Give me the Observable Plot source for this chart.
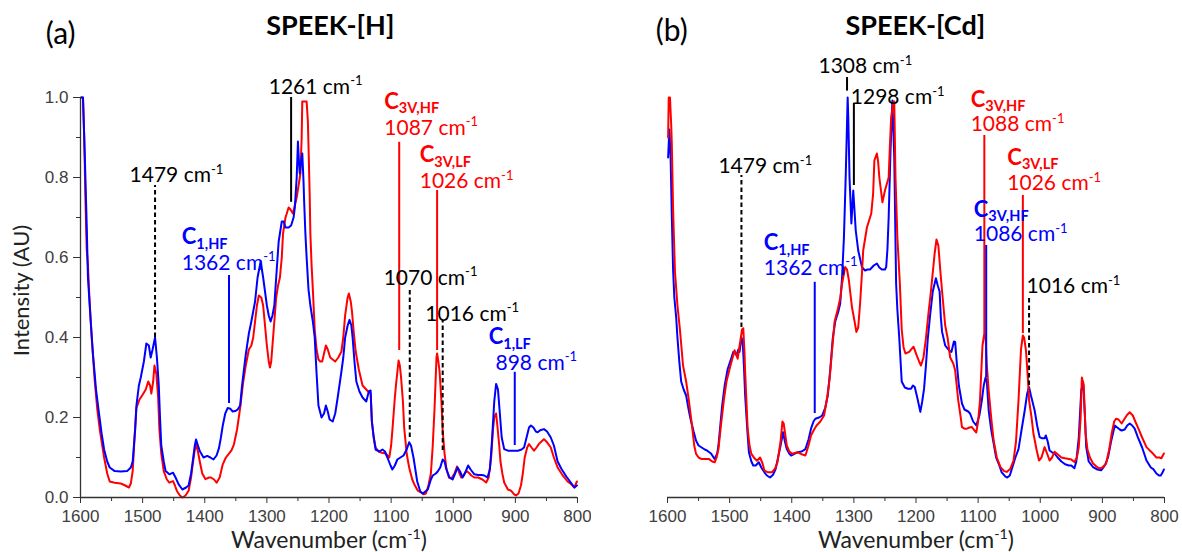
<!DOCTYPE html>
<html>
<head>
<meta charset="utf-8">
<script src="https://cdn.jsdelivr.net/npm/d3@7"></script>
<script src="https://cdn.jsdelivr.net/npm/@observablehq/plot@0.6"></script>
<style>
  html, body { margin: 0; padding: 0; background: #fff; }
  #wrap { display: flex; width: 1182px; height: 552px; overflow: hidden; }
  #wrap svg { overflow: visible; }
</style>
</head>
<body>
<div id="wrap"></div>
<script>
// ---------- Tick values ----------
const xTicks = [1600, 1500, 1400, 1300, 1200, 1100, 1000, 900, 800];
const xMinor = [1550, 1450, 1350, 1250, 1150, 1050, 950, 850];
const yTicks = [0, 0.2, 0.4, 0.6, 0.8, 1.0];
const yMinor = [0.1, 0.3, 0.5, 0.7, 0.9];

// ---------- Panel (a) SPEEK-[H] : red spectrum ----------
const aRed = [[1599,1.0],[1596,1.0],[1594,0.9],[1592,0.74],[1590,0.62],[1588,0.58],[1586,0.51],[1582,0.40],[1577,0.29],[1573,0.22],[1569,0.17],[1565,0.13],[1562,0.10],[1557,0.06],[1553,0.04],[1545,0.037],[1535,0.035],[1528,0.03],[1522,0.025],[1519,0.035],[1516,0.066],[1513,0.15],[1510,0.224],[1505,0.245],[1500,0.257],[1495,0.27],[1491,0.29],[1488,0.28],[1486,0.26],[1483,0.29],[1481,0.33],[1478,0.31],[1475,0.25],[1473,0.17],[1470,0.11],[1466,0.066],[1461,0.045],[1457,0.037],[1451,0.041],[1448,0.03],[1445,0.017],[1440,0.005],[1436,0.0],[1431,0.005],[1426,0.017],[1422,0.05],[1420,0.075],[1416,0.12],[1414,0.133],[1411,0.115],[1408,0.09],[1404,0.06],[1399,0.046],[1393,0.05],[1390,0.05],[1385,0.045],[1381,0.037],[1376,0.05],[1371,0.083],[1366,0.1],[1362,0.108],[1357,0.118],[1353,0.133],[1348,0.17],[1343,0.224],[1338,0.29],[1334,0.33],[1329,0.37],[1325,0.38],[1322,0.40],[1319,0.44],[1316,0.48],[1313,0.505],[1309,0.50],[1306,0.48],[1303,0.43],[1300,0.38],[1297,0.34],[1295,0.325],[1293,0.34],[1290,0.40],[1287,0.46],[1285,0.50],[1282,0.53],[1279,0.55],[1276,0.60],[1274,0.66],[1270,0.70],[1265,0.725],[1262,0.72],[1258,0.71],[1255,0.73],[1252,0.75],[1249,0.78],[1246,0.81],[1244,0.90],[1243,0.99],[1240,0.99],[1236,0.99],[1234,0.94],[1233,0.88],[1231,0.75],[1230,0.66],[1228,0.58],[1226,0.52],[1223,0.42],[1220,0.37],[1217,0.345],[1214,0.34],[1211,0.34],[1208,0.36],[1205,0.38],[1202,0.37],[1198,0.35],[1194,0.345],[1190,0.34],[1185,0.35],[1180,0.365],[1177,0.40],[1174,0.456],[1170,0.50],[1168,0.51],[1165,0.49],[1163,0.465],[1160,0.41],[1157,0.365],[1152,0.32],[1146,0.28],[1140,0.27],[1137,0.265],[1133,0.26],[1131,0.19],[1128,0.15],[1125,0.125],[1120,0.115],[1115,0.112],[1109,0.11],[1103,0.10],[1100,0.13],[1098,0.168],[1094,0.25],[1092,0.284],[1088,0.3425],[1086,0.33],[1084,0.30],[1081,0.24],[1079,0.175],[1075,0.11],[1071,0.075],[1066,0.045],[1063,0.034],[1057,0.017],[1052,0.0125],[1048,0.008],[1044,0.01],[1040,0.03],[1036,0.06],[1033,0.13],[1030,0.226],[1027,0.35],[1026,0.36],[1024,0.34],[1022,0.315],[1019,0.24],[1017,0.166],[1014,0.11],[1011,0.0725],[1007,0.05],[1003,0.0475],[998,0.06],[994,0.0775],[990,0.06],[987,0.05],[983,0.055],[979,0.067],[975,0.062],[971,0.055],[966,0.05],[960,0.05],[953,0.045],[947,0.0375],[943,0.05],[939,0.1],[936,0.17],[934,0.2],[931,0.21],[929,0.18],[926,0.13],[924,0.09],[921,0.06],[918,0.0375],[912,0.02],[907,0.017],[902,0.008],[899,0.005],[895,0.01],[891,0.03],[888,0.06],[885,0.1],[881,0.125],[878,0.1335],[874,0.125],[870,0.117],[866,0.125],[862,0.134],[858,0.14],[854,0.146],[849,0.138],[843,0.125],[838,0.1],[832,0.075],[825,0.058],[816,0.04],[810,0.033],[805,0.025],[801,0.04]];

// ---------- Panel (a) SPEEK-[H] : blue spectrum ----------
const aBlue = [[1599,1.0],[1596,1.0],[1593,0.85],[1590,0.68],[1588,0.55],[1584,0.45],[1580,0.36],[1575,0.27],[1571,0.22],[1566,0.16],[1562,0.12],[1557,0.09],[1553,0.075],[1545,0.066],[1535,0.065],[1525,0.066],[1519,0.075],[1516,0.09],[1512,0.17],[1510,0.23],[1506,0.28],[1503,0.30],[1498,0.34],[1494,0.385],[1490,0.38],[1487,0.35],[1484,0.37],[1480,0.40],[1477,0.35],[1474,0.28],[1472,0.2],[1470,0.13],[1466,0.09],[1463,0.066],[1457,0.058],[1451,0.062],[1447,0.05],[1442,0.033],[1436,0.02],[1430,0.025],[1426,0.03],[1422,0.06],[1420,0.083],[1416,0.13],[1414,0.145],[1411,0.13],[1408,0.116],[1402,0.10],[1396,0.104],[1391,0.1],[1386,0.095],[1381,0.105],[1377,0.124],[1374,0.15],[1371,0.18],[1367,0.21],[1363,0.224],[1359,0.222],[1355,0.215],[1351,0.216],[1347,0.22],[1343,0.23],[1340,0.28],[1334,0.357],[1329,0.41],[1325,0.44],[1319,0.49],[1315,0.55],[1310,0.59],[1306,0.55],[1300,0.48],[1297,0.455],[1294,0.44],[1291,0.455],[1288,0.48],[1285,0.55],[1281,0.64],[1276,0.69],[1273,0.69],[1270,0.675],[1265,0.675],[1261,0.68],[1257,0.70],[1255,0.725],[1252,0.80],[1250,0.89],[1248,0.83],[1247,0.81],[1245,0.84],[1243,0.86],[1241,0.79],[1240,0.74],[1238,0.66],[1236,0.60],[1233,0.52],[1230,0.48],[1226,0.44],[1223,0.40],[1220,0.31],[1217,0.23],[1212,0.20],[1208,0.21],[1205,0.23],[1202,0.215],[1199,0.195],[1194,0.19],[1190,0.21],[1186,0.25],[1180,0.315],[1177,0.35],[1174,0.40],[1170,0.43],[1167,0.444],[1164,0.43],[1162,0.40],[1159,0.34],[1156,0.29],[1151,0.265],[1146,0.25],[1140,0.24],[1136,0.265],[1133,0.2675],[1131,0.19],[1128,0.15],[1125,0.12],[1119,0.115],[1114,0.12],[1110,0.115],[1106,0.10],[1101,0.08],[1098,0.07],[1094,0.08],[1090,0.095],[1085,0.1],[1080,0.105],[1075,0.12],[1071,0.138],[1068,0.13],[1064,0.10],[1061,0.07],[1058,0.04],[1053,0.015],[1049,0.01],[1045,0.015],[1041,0.02],[1036,0.045],[1033,0.055],[1028,0.06],[1025,0.065],[1021,0.075],[1017,0.095],[1014,0.09],[1011,0.07],[1006,0.05],[1001,0.045],[997,0.06],[993,0.075],[989,0.065],[985,0.05],[980,0.065],[976,0.08],[972,0.07],[966,0.058],[960,0.056],[954,0.056],[950,0.055],[945,0.05],[941,0.07],[938,0.134],[934,0.24],[931,0.284],[928,0.27],[925,0.21],[922,0.15],[918,0.121],[912,0.117],[907,0.117],[900,0.117],[896,0.117],[890,0.12],[886,0.125],[882,0.15],[878,0.175],[875,0.18],[871,0.175],[867,0.165],[864,0.163],[860,0.168],[854,0.171],[849,0.165],[843,0.15],[838,0.13],[832,0.09],[826,0.072],[818,0.0525],[812,0.04],[805,0.025],[801,0.03]];

// ---------- Panel (b) SPEEK-[Cd] : blue spectrum ----------
const bBlue = [[1599,0.85],[1597,0.92],[1595,0.85],[1593,0.70],[1591,0.57],[1589,0.50],[1586,0.45],[1584,0.40],[1581,0.34],[1578,0.29],[1574,0.27],[1570,0.255],[1566,0.22],[1563,0.197],[1558,0.165],[1554,0.142],[1550,0.13],[1545,0.125],[1540,0.12],[1536,0.117],[1530,0.11],[1524,0.096],[1520,0.11],[1518,0.13],[1515,0.18],[1512,0.23],[1508,0.28],[1503,0.322],[1498,0.345],[1494,0.364],[1489,0.356],[1486,0.37],[1484,0.364],[1481,0.40],[1479,0.39],[1477,0.33],[1475,0.255],[1472,0.18],[1469,0.113],[1465,0.09],[1462,0.08],[1458,0.08],[1453,0.088],[1449,0.075],[1444,0.063],[1440,0.055],[1435,0.05],[1430,0.057],[1426,0.071],[1422,0.1],[1418,0.13],[1414,0.163],[1411,0.14],[1408,0.121],[1404,0.11],[1401,0.105],[1395,0.11],[1390,0.113],[1384,0.115],[1378,0.121],[1373,0.145],[1369,0.172],[1365,0.19],[1362,0.197],[1356,0.2],[1351,0.205],[1346,0.225],[1342,0.255],[1338,0.32],[1334,0.398],[1330,0.44],[1325,0.465],[1322,0.485],[1319,0.55],[1316,0.65],[1313,0.81],[1310,1.0],[1309,0.95],[1307,0.80],[1304,0.685],[1301,0.7675],[1297,0.6675],[1293,0.6175],[1287,0.576],[1282,0.5675],[1278,0.57],[1274,0.57],[1268,0.58],[1263,0.585],[1259,0.575],[1255,0.57],[1250,0.57],[1248,0.576],[1246,0.62],[1244,0.70],[1241,0.8675],[1238,0.9925],[1235,0.85],[1232,0.535],[1230,0.47],[1227,0.40],[1223,0.29],[1218,0.275],[1213,0.272],[1208,0.272],[1205,0.28],[1202,0.276],[1198,0.25],[1193,0.214],[1190,0.24],[1187,0.272],[1184,0.33],[1181,0.398],[1177,0.46],[1173,0.515],[1168,0.548],[1165,0.53],[1162,0.515],[1160,0.45],[1158,0.414],[1153,0.38],[1149,0.372],[1145,0.365],[1143,0.364],[1139,0.39],[1137,0.389],[1134,0.33],[1131,0.28],[1126,0.235],[1122,0.22],[1116,0.215],[1113,0.21],[1108,0.19],[1103,0.18],[1098,0.205],[1094,0.243],[1091,0.28],[1088,0.30],[1086,0.29],[1083,0.2175],[1079,0.17],[1075,0.135],[1071,0.10],[1067,0.085],[1062,0.063],[1056,0.052],[1053,0.05],[1049,0.055],[1046,0.07],[1040,0.1],[1035,0.121],[1030,0.17],[1025,0.2175],[1021,0.26],[1018,0.276],[1015,0.255],[1011,0.23],[1009,0.2175],[1005,0.18],[1001,0.151],[997,0.148],[993,0.148],[991,0.155],[988,0.14],[985,0.1175],[980,0.112],[977,0.11],[972,0.1],[966,0.09],[960,0.083],[954,0.08],[950,0.08],[945,0.073],[942,0.09],[938,0.15],[934,0.2675],[931,0.289],[928,0.2],[926,0.126],[922,0.09],[915,0.076],[908,0.07],[902,0.068],[896,0.08],[891,0.10],[886,0.14],[880,0.18],[876,0.175],[872,0.17],[869,0.1675],[864,0.17],[860,0.18],[856,0.185],[852,0.18],[848,0.172],[843,0.151],[836,0.125],[829,0.0925],[822,0.075],[818,0.071],[813,0.06],[809,0.055],[806,0.055],[803,0.063],[801,0.07]];

// ---------- Panel (b) SPEEK-[Cd] : red spectrum ----------
const bRed = [[1599,0.9],[1598,1.0],[1596,1.0],[1594,0.93],[1593,0.88],[1591,0.72],[1588,0.565],[1584,0.48],[1580,0.42],[1575,0.33],[1570,0.29],[1566,0.247],[1563,0.21],[1560,0.172],[1557,0.13],[1554,0.109],[1550,0.1],[1545,0.096],[1540,0.096],[1533,0.096],[1528,0.09],[1524,0.088],[1521,0.1],[1518,0.121],[1514,0.18],[1509,0.247],[1505,0.29],[1500,0.322],[1496,0.345],[1492,0.368],[1487,0.347],[1485,0.37],[1483,0.389],[1480,0.42],[1478,0.423],[1476,0.36],[1475,0.314],[1471,0.172],[1468,0.13],[1465,0.109],[1460,0.098],[1456,0.092],[1451,0.1],[1447,0.085],[1444,0.067],[1438,0.063],[1432,0.063],[1427,0.072],[1423,0.088],[1418,0.14],[1415,0.19],[1413,0.185],[1408,0.13],[1404,0.115],[1399,0.109],[1394,0.112],[1390,0.113],[1384,0.108],[1378,0.105],[1373,0.13],[1369,0.155],[1364,0.17],[1360,0.18],[1354,0.19],[1348,0.205],[1343,0.25],[1339,0.297],[1335,0.37],[1331,0.44],[1326,0.47],[1322,0.498],[1319,0.535],[1316,0.56],[1314,0.576],[1311,0.57],[1308,0.5425],[1306,0.515],[1303,0.475],[1300,0.45],[1296,0.414],[1293,0.425],[1290,0.485],[1287,0.56],[1285,0.6175],[1279,0.675],[1272,0.71],[1269,0.76],[1267,0.8425],[1263,0.86],[1261,0.84],[1259,0.80],[1254,0.738],[1250,0.7675],[1244,0.80],[1242,0.88],[1240,0.95],[1236,0.99],[1235,0.99],[1233,0.8],[1230,0.65],[1226,0.535],[1223,0.42],[1220,0.375],[1217,0.36],[1211,0.364],[1204,0.377],[1199,0.356],[1195,0.34],[1192,0.33],[1188,0.35],[1184,0.398],[1180,0.46],[1176,0.515],[1170,0.61],[1167,0.645],[1164,0.63],[1161,0.57],[1158,0.515],[1153,0.43],[1149,0.398],[1145,0.35],[1140,0.335],[1137,0.318],[1132,0.243],[1128,0.2],[1126,0.176],[1122,0.172],[1118,0.172],[1114,0.175],[1110,0.176],[1106,0.168],[1103,0.1625],[1100,0.19],[1097,0.243],[1093,0.38],[1090,0.41],[1088,0.40],[1086,0.33],[1083,0.2675],[1079,0.2],[1075,0.1425],[1070,0.1],[1064,0.076],[1058,0.066],[1054,0.064],[1048,0.072],[1043,0.0925],[1039,0.14],[1035,0.243],[1031,0.37],[1028,0.405],[1026,0.40],[1023,0.368],[1020,0.3],[1018,0.243],[1014,0.2],[1011,0.16],[1006,0.12],[1002,0.0925],[998,0.1],[993,0.126],[989,0.11],[985,0.0925],[981,0.1],[977,0.114],[972,0.108],[966,0.10],[960,0.098],[956,0.097],[950,0.095],[945,0.0885],[941,0.1],[938,0.126],[935,0.2],[933,0.30],[930,0.28],[927,0.16],[924,0.12],[920,0.1],[915,0.085],[910,0.078],[905,0.0725],[900,0.075],[894,0.085],[889,0.12],[885,0.16],[881,0.19],[878,0.197],[874,0.195],[869,0.185],[865,0.195],[860,0.207],[856,0.213],[851,0.205],[847,0.19],[843,0.176],[836,0.15],[829,0.126],[820,0.112],[813,0.10],[808,0.10],[805,0.098],[801,0.11]];

// ---------- Peak markers: [wavenumber, lower end, upper end, series, dashed] ----------
const aMarkers = [[1480,0.40,0.78,"black",true],[1361,0.235,0.555,"blue",false],[1261,0.738,1.0,"black",false],[1087,0.3675,0.888,"red",false],[1026,0.3675,0.7675,"red",false],[1070,0.15,0.5225,"black",true],[1017,0.1175,0.4425,"black",true],[901,0.13,0.313,"blue",false]];
const bMarkers = [[1481,0.425,0.805,"black",true],[1363,0.21,0.538,"blue",false],[1311,1.016,1.05,"black",false],[1300,0.78,0.985,"black",false],[1090,0.41,0.905,"red",false],[1087,0.30,0.63,"blue",false],[1028,0.41,0.755,"red",false],[1018,0.28,0.505,"black",true]];

// ---------- Labels: [text, wavenumber, intensity, series, bold] ----------
const aLabels = [["1479 cm^{-1}",1521,0.805,"black",false],["C_{1,HF}",1437,0.652,"blue",true],["1362 cm^{-1}",1437,0.586,"blue",false],["1261 cm^{-1}",1297,1.026,"black",false],["C_{3V,HF}",1111,0.99,"red",true],["1087 cm^{-1}",1111,0.924,"red",false],["C_{3V,LF}",1054,0.857,"red",true],["1026 cm^{-1}",1054,0.79,"red",false],["1070 cm^{-1}",1112,0.549,"black",false],["1016 cm^{-1}",1045,0.459,"black",false],["C_{1,LF}",943,0.402,"blue",true],["898 cm^{-1}",932,0.336,"blue",false]];
const bLabels = [["1308 cm^{-1}",1357,1.077,"black",false],["1298 cm^{-1}",1305,1.0,"black",false],["1479 cm^{-1}",1518,0.827,"black",false],["C_{3V,HF}",1112,0.995,"red",true],["1088 cm^{-1}",1112,0.932,"red",false],["C_{3V,LF}",1053,0.85,"red",true],["1026 cm^{-1}",1053,0.785,"red",false],["C_{3V,HF}",1107,0.72,"blue",true],["1086 cm^{-1}",1107,0.657,"blue",false],["C_{1,HF}",1445,0.636,"blue",true],["1362 cm^{-1}",1445,0.574,"blue",false],["1016 cm^{-1}",1022,0.527,"black",false]];

// ---------- Panel titles ----------
const panels = [
  {tag: "(a)", title: "SPEEK-[H]"},
  {tag: "(b)", title: "SPEEK-[Cd]"}
];
const xLabel = "Wavenumber (cm^{-1})";
const yLabel = "Intensity (AU)";

// ---------- helpers ----------
const COLORS = {red: "#ff0000", blue: "#0000ff", black: "#000000"};
const ANN_FONT = "Lato, 'Open Sans', sans-serif";
const toLine = (arr, s) => arr.map(([wn, v]) => ({wn, v, s}));
const toRule = arr => arr.map(([wn, y1, y2, s, dash]) => ({wn, y1, y2, c: COLORS[s], dash}));
const toLabel = arr => arr.map(([t, wn, v, s, bold]) => ({t, wn, v, c: COLORS[s], bold}));

function richify(root) {
  root.querySelectorAll("text").forEach(t => {
    const s = t.textContent;
    if (!/[\^_]\{/.test(s)) return;
    const fs = parseFloat(getComputedStyle(t).fontSize) || 20;
    while (t.firstChild) t.removeChild(t.firstChild);
    const re = /([\^_])\{([^}]*)\}/g;
    let last = 0, m, shift = 0;
    const add = (str, kind) => {
      const ts = document.createElementNS("http://www.w3.org/2000/svg", "tspan");
      let target = 0;
      if (kind === "^") { target = -0.40 * fs; ts.setAttribute("font-size", (0.62 * fs) + "px"); }
      if (kind === "_") { target = 0.22 * fs; ts.setAttribute("font-size", (0.66 * fs) + "px"); }
      ts.setAttribute("dy", (target - shift) + "px");
      shift = target;
      ts.textContent = str;
      t.appendChild(ts);
    };
    while ((m = re.exec(s))) {
      if (m.index > last) add(s.slice(last, m.index), "");
      add(m[2], m[1]);
      last = re.lastIndex;
    }
    if (last < s.length) add(s.slice(last), "");
  });
}

function panel(i, redData, blueData, markers, labels, opts) {
  const rules = toRule(markers);
  const labs = toLabel(labels);
  const lines = opts.blueOnTop
    ? [Plot.line(toLine(redData, "red"), {x: "wn", y: "v", stroke: COLORS.red, strokeWidth: 2}),
       Plot.line(toLine(blueData, "blue"), {x: "wn", y: "v", stroke: COLORS.blue, strokeWidth: 2})]
    : [Plot.line(toLine(blueData, "blue"), {x: "wn", y: "v", stroke: COLORS.blue, strokeWidth: 2}),
       Plot.line(toLine(redData, "red"), {x: "wn", y: "v", stroke: COLORS.red, strokeWidth: 2})];
  const marks = [
    ...lines,
    Plot.ruleX(rules.filter(d => !d.dash), {x: "wn", y1: "y1", y2: "y2", stroke: "c", strokeWidth: 2}),
    Plot.ruleX(rules.filter(d => d.dash), {x: "wn", y1: "y1", y2: "y2", stroke: "c", strokeWidth: 2, strokeDasharray: "4.5,3"}),
    Plot.text(labs.filter(d => !d.bold), {x: "wn", y: "v", text: "t", fill: "c", textAnchor: "start", lineAnchor: "middle", fontSize: 21, fontFamily: ANN_FONT}),
    Plot.text(labs.filter(d => d.bold), {x: "wn", y: "v", text: "t", fill: "c", textAnchor: "start", lineAnchor: "middle", fontSize: 22, fontWeight: "bold", fontFamily: ANN_FONT}),
    Plot.ruleY([0], {stroke: "#333", strokeWidth: 1.3}),
    Plot.axisX(xTicks, {tickSize: 6, tickPadding: 6, tickFormat: d => String(d), label: null, fontSize: 17, color: "#404040", stroke: "#333"}),
    Plot.axisX(xMinor, {tickSize: 4, tickFormat: () => "", label: null, stroke: "#333"}),
    Plot.text([panels[i]], {x: () => opts.tagWn, y: () => opts.tagV, text: "tag", textAnchor: "start", lineAnchor: "middle", fontSize: 30, fontFamily: ANN_FONT, fill: "#000"}),
    Plot.text([panels[i]], {x: () => opts.titleWn, y: () => 1.178, text: "title", textAnchor: "middle", lineAnchor: "middle", fontSize: 27, fontWeight: "bold", fontFamily: ANN_FONT, fill: "#000"}),
    Plot.text([xLabel], {x: () => 1200, y: () => -0.108, text: d => d, textAnchor: "middle", lineAnchor: "middle", fontSize: 23, fontFamily: ANN_FONT, fill: "#222"})
  ];
  if (opts.yAxis) {
    marks.push(
      Plot.ruleX([1600], {y1: () => 0, y2: () => 1, stroke: "#333", strokeWidth: 1.3}),
      Plot.axisY(yTicks, {tickSize: 7, tickPadding: 5, tickFormat: d3.format(".1f"), label: null, fontSize: 17, color: "#404040", stroke: "#333"}),
      Plot.axisY(yMinor, {tickSize: 4, tickFormat: () => "", label: null, stroke: "#333"}),
      Plot.text([yLabel], {x: () => 1695, y: () => 0.5175, text: d => d, rotate: -90, textAnchor: "middle", lineAnchor: "middle", fontSize: 22, fontFamily: ANN_FONT, fill: "#222"})
    );
  }
  return Plot.plot({
    width: 591,
    height: 552,
    marginLeft: opts.ml,
    marginRight: opts.mr,
    marginTop: 97,
    marginBottom: 55,
    x: {domain: [1600, 800]},
    y: opts.yAxis ? {domain: [0, 1]} : {domain: [0, 1], axis: null},
    style: {fontFamily: "'Liberation Sans', Arial, sans-serif", fontSize: "17px", background: "white", overflow: "visible"},
    marks
  });
}

const wrap = document.getElementById("wrap");
const pa = panel(0, aRed, aBlue, aMarkers, aLabels, {ml: 80, mr: 14, yAxis: true, blueOnTop: true, tagWn: 1656, tagV: 1.1575, titleWn: 1198});
const pb = panel(1, bRed, bBlue, bMarkers, bLabels, {ml: 76, mr: 18, yAxis: false, blueOnTop: false, tagWn: 1619, tagV: 1.165, titleWn: 1201});
wrap.appendChild(pa);
wrap.appendChild(pb);
richify(pa);
richify(pb);
</script>
</body>
</html>
